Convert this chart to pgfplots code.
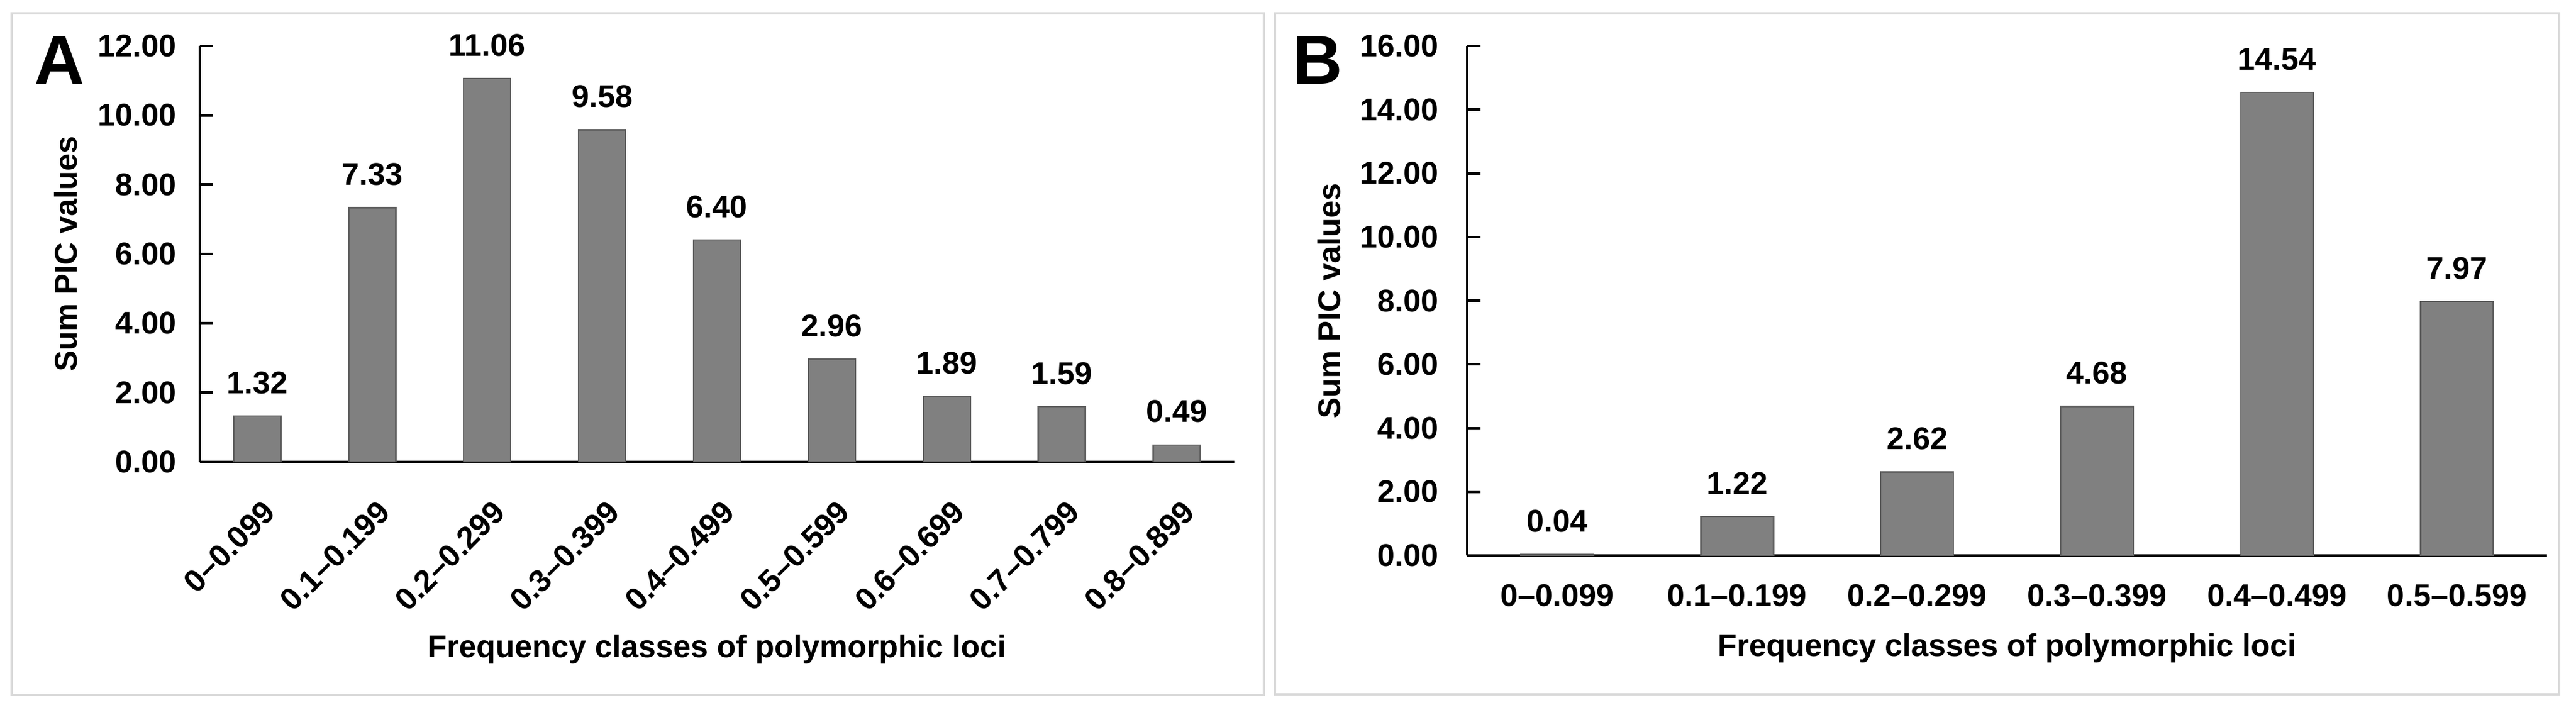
\documentclass[border=0pt]{standalone}
\usepackage{fontspec}
\setmainfont{Liberation Sans}
\usepackage{pgfplots}
\pgfplotsset{compat=1.18}
\definecolor{barfill}{HTML}{808080}
\definecolor{baredge}{HTML}{5E5E5E}
\definecolor{panelframe}{HTML}{D9D9D9}
\newcommand\lblfont{\fontsize{10.8}{13}\selectfont\bfseries}
\pgfplotsset{
  picbar/.style={
    scale only axis, ybar, enlargelimits=false, ymin=0,
    axis x line*=bottom, axis y line*=left,
    axis line style={black, line width=0.9pt},
    ytick style={black, line width=0.9pt},
    major tick length=4.6pt, tick align=inside,
    xtick style={draw=none},
    xtick=data,
    font=\lblfont,
    ticklabel style={font=\lblfont},
    /pgf/number format/assume math mode=true,
    /pgf/number format/fixed,
    /pgf/number format/fixed zerofill,
    /pgf/number format/precision=2,
    yticklabel style={anchor=east, inner sep=0pt},
    nodes near coords,
    every node near coord/.append style={font=\lblfont, text=black, anchor=south, inner sep=0pt, yshift=7.4pt},
    ylabel={Sum PIC values},
    xlabel={Frequency classes of polymorphic loci},
  },
  picbars/.style={fill=barfill, draw=baredge, line width=0.5pt},
}
\begin{document}
\begin{tikzpicture}
\path[use as bounding box] (0,0) rectangle (887pt,244.2pt);
\draw[panelframe, line width=0.7pt] (4pt,5pt) rectangle (435.2pt,239.6pt);
\draw[panelframe, line width=0.7pt] (439pt,5.2pt) rectangle (881.2pt,239.6pt);

% panel A
\begin{axis}[picbar,
    at={(68.8pt,85.2pt)}, anchor=south west,
    width=356.2pt, height=143.2pt,
    xmin=-0.5, xmax=8.5, ymax=12,
    ytick={0,2,...,12},
    bar width=16.2pt,
    xticklabels={0–0.099,0.1–0.199,0.2–0.299,0.3–0.399,0.4–0.499,0.5–0.599,0.6–0.699,0.7–0.799,0.8–0.899},
    xticklabel style={xshift=1.4pt, yshift=-12.4pt, rotate=45, anchor=north east, inner sep=0pt},
    yticklabel style={xshift=-7.8pt},
    xlabel style={at={(axis description cs:0.5,0)}, anchor=base, yshift=-67.2pt},
    ylabel style={at={(axis description cs:-0.1185,0.5)}, anchor=base},
  ]
  \addplot[picbars] coordinates {(0,1.32) (1,7.33) (2,11.06) (3,9.58) (4,6.40) (5,2.96) (6,1.89) (7,1.59) (8,0.49)};
\end{axis}

% panel B
\begin{axis}[picbar,
    at={(505.2pt,53pt)}, anchor=south west,
    width=371.8pt, height=175.4pt,
    xmin=-0.5, xmax=5.5, ymax=16,
    ytick={0,2,...,16},
    bar width=25pt,
    xticklabels={0–0.099,0.1–0.199,0.2–0.299,0.3–0.399,0.4–0.499,0.5–0.599},
    xticklabel style={anchor=north, inner sep=0pt, yshift=-9.8pt},
    yticklabel style={xshift=-9.6pt},
    xlabel style={at={(axis description cs:0.5,0)}, anchor=base, yshift=-34.6pt},
    ylabel style={at={(axis description cs:-0.1173,0.5)}, anchor=base},
  ]
  \addplot[picbars] coordinates {(0,0.04) (1,1.22) (2,2.62) (3,4.68) (4,14.54) (5,7.97)};
\end{axis}

\node[anchor=base west, inner sep=0pt, font=\fontsize{23.8}{28}\selectfont\bfseries] at (11.8pt,215.2pt) {A};
\node[anchor=base west, inner sep=0pt, font=\fontsize{23.8}{28}\selectfont\bfseries] at (444.8pt,215.2pt) {B};
\end{tikzpicture}
\end{document}
